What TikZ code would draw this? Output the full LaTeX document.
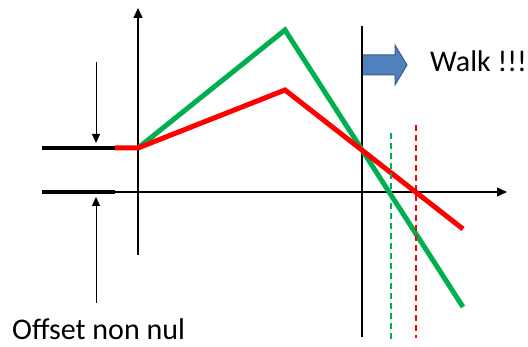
\documentclass[tikz,border=0pt]{standalone}
\usepackage{fontspec}
\setmainfont{Carlito}
\usetikzlibrary{arrows.meta}
\definecolor{pgreen}{HTML}{00B050}
\definecolor{pred}{HTML}{FF0000}
\definecolor{pblue}{HTML}{4F81BD}
\definecolor{pblueb}{HTML}{385D8A}
\tikzset{
  axis/.style={line width=1.3pt,-{Triangle[length=10pt,width=9pt]}},
  plainaxis/.style={line width=1.3pt},
  thickbar/.style={line width=4.5pt,line cap=butt},
  curve/.style={line width=5pt,line join=miter,line cap=butt},
  guide/.style={line width=1.4pt,dash pattern=on 6pt off 4pt},
  pointer/.style={line width=1pt,-{Triangle[length=9pt,width=8pt]}},
  label/.style={inner sep=0pt,text depth=0pt,font=\fontsize{30}{36}\selectfont}
}
\begin{document}
\begin{tikzpicture}[x=1pt,y=-1pt]
\useasboundingbox (0,0) rectangle (528,347);
% coordinates
\coordinate (ytop) at (138,8);
\coordinate (ybot) at (138,255);
\coordinate (xstart) at (115,192);
\coordinate (xend) at (507,192);
\coordinate (v2top) at (362,26);
\coordinate (v2bot) at (362,337);
\coordinate (b1s) at (42,148);
\coordinate (b1e) at (115,148);
\coordinate (b2s) at (42,192);
\coordinate (b2e) at (115,192);
\coordinate (start) at (138,148);
\coordinate (gpeak) at (285,30);
\coordinate (gend) at (463,307);
\coordinate (rpeak) at (285,90);
\coordinate (rend) at (463,229);
\coordinate (gdt) at (391,133);
\coordinate (gdb) at (391,342);
\coordinate (rdt) at (416,125);
\coordinate (rdb) at (416,338);
\coordinate (dnS) at (96,62);
\coordinate (dnE) at (96,143);
\coordinate (upS) at (96,303);
\coordinate (upE) at (96,197);
% axes
\draw[axis] (ybot) -- (ytop);
\draw[axis] (xstart) -- (xend);
\draw[plainaxis] (v2bot) -- (v2top);
% thick bars
\draw[thickbar] (b1s) -- (b1e);
\draw[thickbar] (b2s) -- (b2e);
% curves
\draw[curve,pgreen] (start) -- (gpeak) -- (gend);
\draw[curve,pred] (b1e) -- (start) -- (rpeak) -- (rend);
% dashed guides
\draw[guide,pgreen] (gdt) -- (gdb);
\draw[guide,pred] (rdt) -- (rdb);
% pointers
\draw[pointer] (dnS) -- (dnE);
\draw[pointer] (upS) -- (upE);
% block arrow
\draw[fill=pblue,draw=pblueb,line width=1pt,line join=miter]
  (362,55) -- (395,55) -- (395,45) -- (407,65) -- (395,85) -- (395,75) -- (362,75) -- cycle;
\draw[plainaxis] (362,45) -- (362,86);
% labels
\node[label,anchor=base west] (walk) at (430,72) {Walk !!!};
\node[label,anchor=base west] (offset) at (12,340) {Offset non nul};
\end{tikzpicture}
\end{document}
